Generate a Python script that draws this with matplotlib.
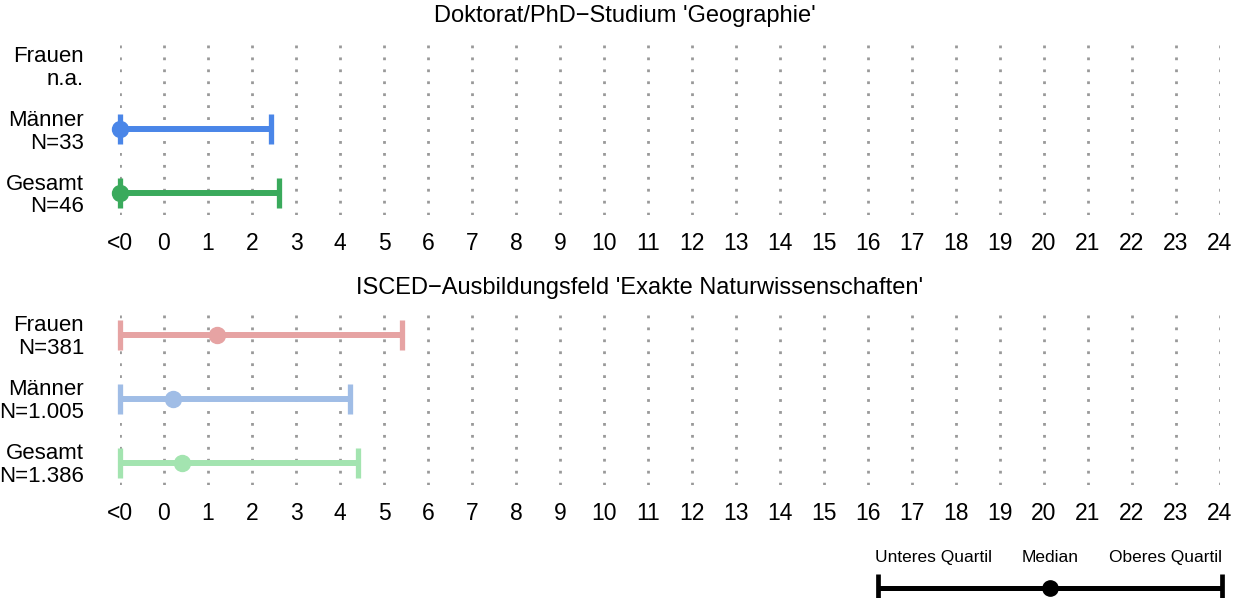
import numpy as np
import matplotlib
matplotlib.use("Agg")
import matplotlib.pyplot as plt

plt.rcParams['font.family'] = ['Liberation Sans', 'DejaVu Sans']

# data: unteres quartil, median, oberes quartil (-1 == "<0")
titles = ["Doktorat/PhD\u2212Studium 'Geographie'",
          "ISCED\u2212Ausbildungsfeld 'Exakte Naturwissenschaften'"]
groups = ["Frauen", "Männer", "Gesamt"]
n_top = ["n.a.", "N=33", "N=46"]
n_bottom = ["N=381", "N=1.005", "N=1.386"]
low_top = [np.nan, -1, -1]
med_top = [np.nan, -1, -1]
upp_top = [np.nan, 2.43, 2.61]
low_bottom = [-1, -1, -1]
med_bottom = [1.2, 0.2, 0.41]
upp_bottom = [5.41, 4.23, 4.41]
col_top = ["#E06666", "#4A86E8", "#3AAA5C"]
col_bottom = ["#E6A3A3", "#A0BDE6", "#A3E4B0"]
xticks = list(range(-1, 25))
xlabels = ["<0"] + [str(i) for i in range(0, 25)]

W, H = 1246, 598
fig = plt.figure(figsize=(W / 100, H / 100), dpi=100)


def px_axes(x0, y0, x1, y1):
    return fig.add_axes([x0 / W, 1 - y1 / H, (x1 - x0) / W, (y1 - y0) / H])


def panel(top, bottom, ns, low, med, upp, cols):
    ax = px_axes(120, top, 1220, bottom)
    rng = 2 + 2 * 22.5 / 64
    pad = (rng - 2) / 2
    ax.set_xlim(-1, 24)
    ax.set_ylim(2 + pad, -pad)
    for x in xticks:
        ax.axvline(x, color="#999999", lw=2, ls=(0, (1, 3.3)),
                   dash_capstyle="butt", zorder=0)
    for i in range(3):
        if np.isnan(med[i]):
            continue
        ax.errorbar(med[i], i, xerr=[[med[i] - low[i]], [upp[i] - med[i]]],
                    color=cols[i], lw=4.3, capsize=11, capthick=3.8,
                    marker="o", ms=11.5, clip_on=False, zorder=3)
    ax.set_yticks([])
    ax.set_xticks(xticks)
    ax.set_xticklabels(xlabels, fontsize=16.5)
    ax.tick_params(axis="x", length=0, pad=12)
    for s in ax.spines.values():
        s.set_visible(False)
    ax.patch.set_visible(False)
    for i, g in enumerate(groups):
        ax.text(-0.0327, i + 0.045, g + "\n" + ns[i],
                transform=ax.get_yaxis_transform(),
                ha="right", va="center", fontsize=16, linespacing=1.12)
    return ax


panel(43, 215, n_top, low_top, med_top, upp_top, col_top)
fig.text(625 / W, 1 - 16 / H, titles[0], ha="center", va="center", fontsize=17)
panel(312, 485, n_bottom, low_bottom, med_bottom, upp_bottom, col_bottom)
fig.text(640 / W, 1 - 288 / H, titles[1], ha="center", va="center", fontsize=17)

# legend
lg = px_axes(878, 540, 1222, 598)
lg.set_xlim(0, 1)
lg.set_ylim(0, 1)
lg.axis("off")
lg.errorbar(0.5, 0.17, xerr=0.5, color="black", lw=3.6, capsize=10, capthick=3.4,
            marker="o", ms=11, clip_on=False)
lg.text(-0.01, 0.7, "Unteres Quartil", ha="left", va="center", fontsize=12.5)
lg.text(0.5, 0.7, "Median", ha="center", va="center", fontsize=12.5)
lg.text(1.0, 0.7, "Oberes Quartil", ha="right", va="center", fontsize=12.5)

fig.savefig("out.png", dpi=100)
